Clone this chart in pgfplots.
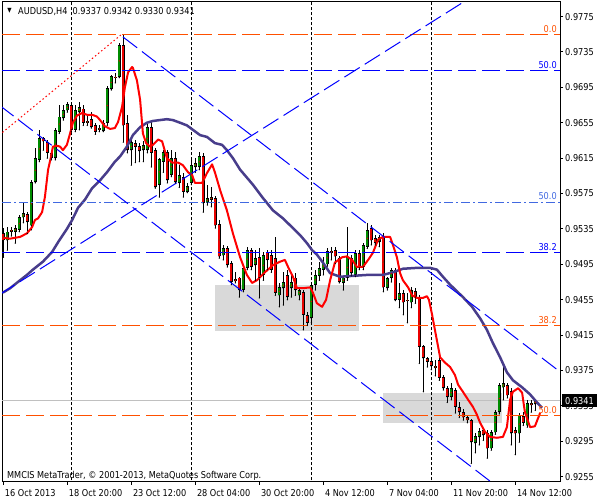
\documentclass[border=0pt]{standalone}
\usepackage{fontspec}
\setmainfont[FakeStretch=0.86]{DejaVu Sans}
\usepackage{pgfplots}
\usepackage{pgfplotstable}
\pgfplotsset{compat=1.18}

\definecolor{lvlorange}{RGB}{255,80,0}
\definecolor{lvlblue}{RGB}{0,0,255}
\definecolor{lvlroyal}{RGB}{65,105,225}
\definecolor{trendblue}{RGB}{0,0,255}
\definecolor{maRed}{RGB}{255,0,0}
\definecolor{maSlow}{RGB}{72,61,139}
\definecolor{bullgreen}{RGB}{0,140,0}
\definecolor{bearred}{RGB}{235,0,0}
\definecolor{boxgray}{RGB}{217,217,217}
\definecolor{bidgray}{RGB}{192,192,192}

\pgfplotsset{
  candle/.style={only marks, mark=*, mark size=0.01pt, mark options={draw=none, fill=none},
    error bars/.cd, y explicit, error mark=none},
  level/.style={draw=#1, color=#1, dash pattern=on 18bp off 6bp},
}

% H4 bars, k = bar index
\pgfplotstableread{
k o h l c
0 0.9530 0.9536 0.9503 0.9522
1 0.9522 0.9537 0.9511 0.9532
2 0.9532 0.9537 0.9527 0.9534
3 0.9532 0.9539 0.9519 0.9536
4 0.9534 0.9551 0.9532 0.9548
5 0.9548 0.9565 0.9542 0.9553
6 0.9552 0.9554 0.9530 0.9543
7 0.9539 0.9590 0.9534 0.9588
8 0.9588 0.9626 0.9587 0.9615
9 0.9613 0.9647 0.9611 0.9638
10 0.9638 0.9639 0.9624 0.9634
11 0.9633 0.9636 0.9615 0.9621
12 0.9621 0.9624 0.9613 0.9615
13 0.9615 0.9649 0.9613 0.9647
14 0.9645 0.9675 0.9643 0.9662
15 0.9660 0.9675 0.9658 0.9669
16 0.9669 0.9678 0.9667 0.9676
17 0.9675 0.9678 0.9645 0.9647
18 0.9647 0.9675 0.9645 0.9669
19 0.9667 0.9678 0.9647 0.9673
20 0.9671 0.9675 0.9652 0.9655
21 0.9657 0.9664 0.9652 0.9655
22 0.9659 0.9667 0.9649 0.9650
23 0.9652 0.9655 0.9642 0.9645
24 0.9649 0.9652 0.9645 0.9647
25 0.9646 0.9658 0.9645 0.9655
26 0.9655 0.9696 0.9652 0.9694
27 0.9693 0.9709 0.9692 0.9708
28 0.9706 0.9711 0.9700 0.9707
29 0.9707 0.9745 0.9706 0.9743
30 0.9743 0.9755 0.9633 0.9652
31 0.9655 0.9664 0.9621 0.9624
32 0.9624 0.9638 0.9607 0.9633
33 0.9632 0.9636 0.9610 0.9628
34 0.9629 0.9632 0.9611 0.9623
35 0.9624 0.9634 0.9611 0.9630
36 0.9624 0.9656 0.9621 0.9650
37 0.9650 0.9658 0.9605 0.9621
38 0.9624 0.9626 0.9581 0.9582
39 0.9585 0.9615 0.9571 0.9614
40 0.9611 0.9624 0.9599 0.9622
41 0.9622 0.9624 0.9587 0.9590
42 0.9596 0.9624 0.9594 0.9615
43 0.9615 0.9622 0.9587 0.9588
44 0.9587 0.9607 0.9582 0.9596
45 0.9594 0.9598 0.9571 0.9577
46 0.9577 0.9587 0.9576 0.9584
47 0.9587 0.9615 0.9585 0.9607
48 0.9605 0.9615 0.9599 0.9610
49 0.9605 0.9622 0.9602 0.9617
50 0.9617 0.9621 0.9554 0.9564
51 0.9565 0.9585 0.9562 0.9570
52 0.9568 0.9582 0.9560 0.9571
53 0.9570 0.9572 0.9536 0.9539
54 0.9541 0.9545 0.9502 0.9504
55 0.9505 0.9517 0.9500 0.9513
56 0.9513 0.9516 0.9492 0.9494
57 0.9496 0.9499 0.9472 0.9475
58 0.9476 0.9486 0.9474 0.9478
59 0.9480 0.9481 0.9458 0.9466
60 0.9466 0.9493 0.9464 0.9491
61 0.9491 0.9515 0.9489 0.9511
62 0.9511 0.9513 0.9489 0.9492
63 0.9494 0.9511 0.9477 0.9502
64 0.9503 0.9513 0.9457 0.9480
65 0.9483 0.9509 0.9477 0.9505
66 0.9509 0.9511 0.9489 0.9500
67 0.9505 0.9511 0.9486 0.9489
68 0.9502 0.9526 0.9460 0.9463
69 0.9460 0.9474 0.9447 0.9469
70 0.9468 0.9486 0.9449 0.9475
71 0.9483 0.9489 0.9455 0.9458
72 0.9468 0.9483 0.9458 0.9475
73 0.9480 0.9485 0.9460 0.9466
74 0.9460 0.9469 0.9455 0.9466
75 0.9464 0.9466 0.9421 0.9438
76 0.9438 0.9441 0.9426 0.9429
77 0.9434 0.9475 0.9429 0.9472
78 0.9472 0.9489 0.9466 0.9483
79 0.9482 0.9498 0.9477 0.9491
80 0.9489 0.9503 0.9483 0.9497
81 0.9495 0.9513 0.9493 0.9510
82 0.9508 0.9515 0.9500 0.9510
83 0.9511 0.9515 0.9496 0.9504
84 0.9502 0.9504 0.9474 0.9475
85 0.9474 0.9481 0.9466 0.9480
86 0.9480 0.9537 0.9477 0.9503
87 0.9502 0.9506 0.9482 0.9485
88 0.9483 0.9511 0.9481 0.9508
89 0.9508 0.9511 0.9489 0.9491
90 0.9492 0.9519 0.9489 0.9517
91 0.9515 0.9542 0.9513 0.9534
92 0.9536 0.9539 0.9517 0.9522
93 0.9525 0.9528 0.9517 0.9519
94 0.9520 0.9528 0.9515 0.9526
95 0.9526 0.9530 0.9464 0.9469
96 0.9468 0.9481 0.9466 0.9480
97 0.9480 0.9491 0.9475 0.9489
98 0.9489 0.9491 0.9454 0.9455
99 0.9455 0.9474 0.9446 0.9463
100 0.9463 0.9466 0.9438 0.9452
101 0.9454 0.9463 0.9429 0.9455
102 0.9452 0.9469 0.9446 0.9466
103 0.9465 0.9468 0.9451 0.9458
104 0.9458 0.9460 0.9383 0.9402
105 0.9403 0.9404 0.9351 0.9389
106 0.9389 0.9390 0.9379 0.9385
107 0.9386 0.9389 0.9376 0.9380
108 0.9378 0.9387 0.9369 0.9380
109 0.9387 0.9390 0.9364 0.9367
110 0.9368 0.9370 0.9353 0.9355
111 0.9355 0.9358 0.9339 0.9345
112 0.9345 0.9361 0.9342 0.9355
113 0.9353 0.9355 0.9327 0.9334
114 0.9334 0.9339 0.9322 0.9328
115 0.9328 0.9332 0.9319 0.9322
116 0.9322 0.9325 0.9316 0.9319
117 0.9319 0.9320 0.9270 0.9294
118 0.9293 0.9304 0.9282 0.9301
119 0.9300 0.9310 0.9291 0.9307
120 0.9308 0.9310 0.9296 0.9302
121 0.9304 0.9308 0.9276 0.9287
122 0.9287 0.9308 0.9285 0.9305
123 0.9305 0.9330 0.9303 0.9328
124 0.9328 0.9361 0.9326 0.9359
125 0.9356 0.9384 0.9342 0.9361
126 0.9359 0.9361 0.9344 0.9347
127 0.9352 0.9355 0.9291 0.9304
128 0.9308 0.9311 0.9280 0.9304
129 0.9304 0.9327 0.9294 0.9325
130 0.9324 0.9328 0.9313 0.9316
131 0.9313 0.9342 0.9311 0.9338
132 0.9336 0.9342 0.9328 0.9338
133 0.9337 0.9342 0.9330 0.9341
}\candles

% fast moving average (red)
\pgfplotstableread{
k p
0 0.9525
1.7 0.9524
4.2 0.9526
5.9 0.9530
7.2 0.9537
7.9 0.9545
8.7 0.9547
9.7 0.9554
10.4 0.9571
11.2 0.9602
11.9 0.9616
12.4 0.9628
13.4 0.9629
14.2 0.9628
14.9 0.9624
15.9 0.9630
16.7 0.9643
17.4 0.9655
18.4 0.9663
19.7 0.9666
20.9 0.9664
22.2 0.9664
23.4 0.9662
24.2 0.9658
25.4 0.9651
26.7 0.9648
27.9 0.9649
28.7 0.9656
29.7 0.9673
30.4 0.9695
31.2 0.9712
32.2 0.9718
32.4 0.9717
33.4 0.9703
34.2 0.9681
34.9 0.9643
35.7 0.9632
36.7 0.9628
37.4 0.9630
38.7 0.9636
39.7 0.9634
40.9 0.9615
42.2 0.9610
43.7 0.9610
44.9 0.9607
46.2 0.9599
47.2 0.9596
47.9 0.9587
49.7 0.9587
50.9 0.9598
52.2 0.9608
52.9 0.9599
54.2 0.9579
55.9 0.9556
57.4 0.9530
59.2 0.9503
60.9 0.9483
62.2 0.9474
63.4 0.9477
65.4 0.9486
67.4 0.9494
69.2 0.9498
70.4 0.9500
71.2 0.9492
72.4 0.9481
73.4 0.9468
74.9 0.9468
76.7 0.9469
77.4 0.9463
78.4 0.9451
79.7 0.9447
80.7 0.9455
81.7 0.9477
82.9 0.9497
84.7 0.9503
85.9 0.9504
87.2 0.9500
88.4 0.9492
89.9 0.9492
91.2 0.9500
92.4 0.9508
93.7 0.9523
94.9 0.9526
96.7 0.9526
97.4 0.9517
98.4 0.9503
99.2 0.9485
99.9 0.9477
101.2 0.9469
102.2 0.9460
103.4 0.9457
104.9 0.9457
105.9 0.9459
106.4 0.9455
107.2 0.9438
107.9 0.9421
108.7 0.9402
109.2 0.9390
110.4 0.9384
111.7 0.9379
112.9 0.9370
113.7 0.9359
114.9 0.9351
116.2 0.9342
117.4 0.9334
118.4 0.9325
119.2 0.9316
120.4 0.9306
121.7 0.9300
123.4 0.9299
124.9 0.9300
125.9 0.9311
126.7 0.9342
127.4 0.9351
128.7 0.9355
129.7 0.9350
130.4 0.9328
131.7 0.9311
132.9 0.9312
134.2 0.9327
}\fastma

% slow moving average
\pgfplotstableread{
k p
-0.1 0.9463
1.7 0.9468
4.2 0.9477
5.9 0.9483
7.4 0.9489
9.9 0.9498
12.2 0.9509
13.7 0.9520
15.9 0.9535
17.2 0.9545
18.7 0.9559
20.4 0.9568
22.2 0.9581
24.2 0.9590
25.9 0.9599
27.9 0.9611
29.2 0.9617
30.9 0.9628
32.4 0.9641
34.2 0.9650
35.9 0.9655
37.4 0.9657
40.9 0.9659
42.4 0.9658
44.2 0.9655
45.9 0.9652
47.4 0.9647
49.2 0.9641
50.9 0.9639
52.9 0.9632
54.7 0.9630
55.9 0.9624
57.4 0.9615
59.2 0.9602
60.9 0.9593
62.4 0.9585
64.9 0.9570
67.4 0.9556
69.9 0.9547
72.4 0.9536
74.2 0.9528
75.9 0.9519
77.2 0.9511
78.4 0.9506
79.9 0.9497
81.7 0.9485
84.2 0.9481
87.4 0.9482
90.9 0.9483
94.9 0.9483
97.4 0.9486
99.9 0.9490
103.4 0.9491
106.7 0.9491
108.4 0.9489
109.9 0.9481
111.7 0.9472
114.9 0.9458
117.2 0.9447
119.2 0.9434
120.9 0.9421
122.4 0.9406
124.2 0.9390
125.9 0.9373
127.4 0.9364
129.7 0.9356
131.7 0.9348
133.4 0.9339
134.7 0.9333
}\slowma

\begin{document}
\fontsize{9.5bp}{11bp}\selectfont
\begin{tikzpicture}
\useasboundingbox (0,0) rectangle (600bp,500bp);
\begin{axis}[
  at={(2bp,18bp)}, anchor=south west,
  scale only axis, width=558bp, height=480bp,
  xmin=-0.325, xmax=139.175, ymin=0.924904, ymax=0.979144,
  axis line style={line width=1bp, black},
  tick align=outside, major tick length=3bp,
  tick style={line width=1bp, black},
  xtick pos=left, ytick pos=right,
  xticklabel pos=left, yticklabel pos=right,
  xtick={0,16,32,48,64,80,96,112,128},
  xticklabels={16 Oct 2013, 18 Oct 20:00, 23 Oct 12:00, 28 Oct 04:00, 30 Oct 20:00, 4 Nov 12:00, 7 Nov 04:00, 11 Nov 20:00, 14 Nov 12:00},
  ytick={0.9255,0.9295,0.9335,0.9375,0.9415,0.9455,0.9495,0.9535,0.9575,0.9615,0.9655,0.9695,0.9735,0.9775},
  yticklabels={0.9255,0.9295,0.9335,0.9375,0.9415,0.9455,0.9495,0.9535,0.9575,0.9615,0.9655,0.9695,0.9735,0.9775},
  xticklabel style={anchor=north west, inner sep=0pt, xshift=1.5bp, yshift=-4bp},
  yticklabel style={anchor=west, inner sep=0pt, xshift=2bp},
  every axis plot/.append style={line width=1bp},
]
% background boxes
\addplot[draw=none, fill=boxgray] coordinates {(52.9,0.9472) (88.9,0.9472) (88.9,0.9420) (52.9,0.9420)};
\addplot[draw=none, fill=boxgray] coordinates {(94.9,0.9350) (124.6,0.9350) (124.6,0.9316) (94.9,0.9316)};
% week separators
\addplot[black, dash pattern=on 3bp off 2bp] coordinates {(17,0.92) (17,0.98)};
\addplot[black, dash pattern=on 3bp off 2bp] coordinates {(47,0.92) (47,0.98)};
\addplot[black, dash pattern=on 3bp off 2bp] coordinates {(77,0.92) (77,0.98)};
\addplot[black, dash pattern=on 3bp off 2bp] coordinates {(107,0.92) (107,0.98)};
% bid line
\addplot[draw=bidgray] coordinates {(-1,0.9341) (140,0.9341)};
% candles: wicks, bodies, then coloured fill inside the bodies
\addplot[color=black, candle, y dir=plus, error bar style={line width=1bp}]
  table[x=k, y=l, y error expr=\thisrow{h}-\thisrow{l}] {\candles};
\addplot[color=black, candle, y dir=plus, error bar style={line width=3.6bp}]
  table[x=k, y expr={min(\thisrow{o},\thisrow{c})},
        y error expr={max(abs(\thisrow{c}-\thisrow{o}),0.00012)}] {\candles};
\addplot[color=bullgreen, candle, y dir=both, error bar style={line width=1.8bp}]
  table[x=k, y expr={(\thisrow{o}+\thisrow{c})/2},
        y error plus expr={max((\thisrow{c}-\thisrow{o})/2-0.0001,0)},
        y error minus expr={max((\thisrow{c}-\thisrow{o})/2-0.0001,0)}] {\candles};
\addplot[color=bearred, candle, y dir=both, error bar style={line width=1.8bp}]
  table[x=k, y expr={(\thisrow{o}+\thisrow{c})/2},
        y error plus expr={max((\thisrow{o}-\thisrow{c})/2-0.0001,0)},
        y error minus expr={max((\thisrow{o}-\thisrow{c})/2-0.0001,0)}] {\candles};
% moving averages
\addplot[draw=maSlow, line width=2.5bp, line join=round] table[x=k, y=p] {\slowma};
\addplot[draw=maRed, line width=2bp, line join=round] table[x=k, y=p] {\fastma};
% fibonacci levels (orange set, then blue set)
\addplot[level=lvlorange] coordinates {(-0.325,0.975471) (139.175,0.975471)};
\addplot[level=lvlorange] coordinates {(-0.325,0.942588) (139.175,0.942588)};
\addplot[level=lvlorange] coordinates {(-0.325,0.932418) (139.175,0.932418)};
\addplot[level=lvlblue] coordinates {(-0.325,0.971403) (139.175,0.971403)};
\addplot[level=lvlblue] coordinates {(-0.325,0.950837) (139.175,0.950837)};
\addplot[draw=lvlroyal, dash pattern=on 9bp off 3bp on 2bp off 3bp] coordinates {(-0.325,0.956487) (139.175,0.956487)};
% trend lines
\addplot[draw=trendblue, dash pattern=on 18bp off 6bp] coordinates {(-1,0.96749) (125,0.92385)};
\addplot[draw=trendblue, dash pattern=on 18bp off 6bp] coordinates {(29.9,0.97520) (142,0.93638)};
\addplot[draw=trendblue, dash pattern=on 18bp off 6bp] coordinates {(-1,0.94607) (120,0.98055)};
\addplot[draw=maRed, dash pattern=on 1.5bp off 2.5bp] coordinates {(-1,0.96411) (29.75,0.97555)};
% level captions
\node[anchor=base east, inner sep=0pt, text=lvlorange] at (axis cs:138.4,0.97572) {0.0};
\node[anchor=base east, inner sep=0pt, text=lvlblue] at (axis cs:138.4,0.97165) {50.0};
\node[anchor=base east, inner sep=0pt, text=lvlroyal] at (axis cs:138.4,0.95677) {50.0};
\node[anchor=base east, inner sep=0pt, text=lvlblue] at (axis cs:138.4,0.95106) {38.2};
\node[anchor=base east, inner sep=0pt, text=lvlorange] at (axis cs:138.4,0.94282) {38.2};
\node[anchor=base east, inner sep=0pt, text=lvlorange] at (axis cs:138.4,0.93267) {50.0};
% header and footer
\node[inner sep=0pt, font=\fontsize{6.5bp}{7bp}\selectfont] at (axis cs:1.55,0.97813) {▼};
\node[anchor=base west, inner sep=0pt] at (axis cs:3.675,0.97771) {AUDUSD,H4\ \ 0.9337 0.9342 0.9330 0.9341};
\node[anchor=base west, inner sep=0pt] at (axis cs:0.925,0.92532) {MMCIS MetaTrader, © 2001-2013, MetaQuotes Software Corp.};
\coordinate (bid) at (axis cs:139.175,0.9341);
\end{axis}
\node[anchor=west, fill=black, text=white, inner xsep=3.5bp, inner ysep=0pt,
  minimum height=13.5bp] at ([xshift=1.5bp]bid) {0.9341};
\end{tikzpicture}
\end{document}
